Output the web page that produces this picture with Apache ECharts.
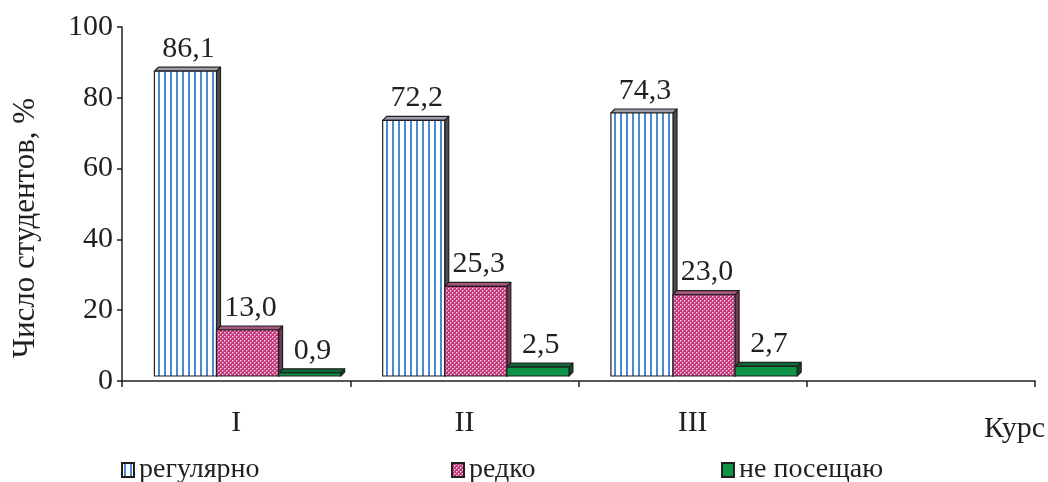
<!DOCTYPE html>
<html>
<head>
<meta charset="utf-8">
<script src="https://cdn.jsdelivr.net/npm/echarts@6/dist/echarts.min.js"></script>
<style>
  html, body { margin: 0; padding: 0; background: #fff; }
  #chart { width: 1048px; height: 482px; }
</style>
</head>
<body>
<div id="chart"></div>
<script>
// Attendance by course, %
const courses = ['I', 'II', 'III', ''];
const regular = [86.1, 72.2, 74.3, null];   // регулярно
const rarely = [13.0, 25.3, 23.0, null];    // редко
const never = [0.9, 2.5, 2.7, null];        // не посещаю
const yTicks = [0, 20, 40, 60, 80, 100];

const FONT = '"Liberation Serif", "Times New Roman", serif';
const INK = '#231f20';

// Fill patterns for the bar faces
function stripePattern() {
  const c = document.createElement('canvas');
  c.width = 6; c.height = 6;
  const g = c.getContext('2d');
  g.fillStyle = '#ffffff'; g.fillRect(0, 0, 6, 6);
  g.fillStyle = '#4a8ad4'; g.fillRect(2, 0, 2, 6);
  return { image: c, repeat: 'repeat' };
}
function dotPattern() {
  const c = document.createElement('canvas');
  c.width = 4; c.height = 4;
  const g = c.getContext('2d');
  g.fillStyle = '#c2387b'; g.fillRect(0, 0, 4, 4);
  g.fillStyle = '#f4d3e3';
  g.fillRect(0, 0, 1, 1); g.fillRect(2, 2, 1, 1);
  g.fillStyle = '#e08ab3';
  g.fillRect(1, 0, 1, 1); g.fillRect(0, 1, 1, 1); g.fillRect(3, 2, 1, 1); g.fillRect(2, 3, 1, 1);
  return { image: c, repeat: 'repeat' };
}

const faces = [
  { front: stripePattern(), top: '#9a9fa8', side: '#4e4e4e' },
  { front: dotPattern(), top: '#a5587f', side: '#6e3a55' },
  { front: '#0e9447', top: '#0a6b34', side: '#064d24' }
];

const DEPTH = 4;   // oblique depth of the 3D box
const LIFT = 5;    // floor raised above the axis line

function boxRenderer(idx) {
  return function (params, api) {
    const cat = api.value(0);
    const val = api.value(1);
    const base = api.coord([cat, 0]);
    const top = api.coord([cat, val]);
    const band = api.size([1, 0])[0];
    const w = band * 0.272;
    const x0 = base[0] - band / 2 + band * (0.142 + idx * 0.272);
    const x1 = x0 + w;
    const yb = base[1] - LIFT;
    const yt = top[1] - LIFT;
    const f = faces[idx];
    const stroke = { stroke: INK, lineWidth: 1.2, lineJoin: 'round' };
    return {
      type: 'group',
      children: [
        { type: 'polygon', shape: { points: [[x1, yb], [x1 + DEPTH, yb - DEPTH], [x1 + DEPTH, yt - DEPTH], [x1, yt]] },
          style: Object.assign({ fill: f.side }, stroke) },
        { type: 'polygon', shape: { points: [[x0, yt], [x1, yt], [x1 + DEPTH, yt - DEPTH], [x0 + DEPTH, yt - DEPTH]] },
          style: Object.assign({ fill: f.top }, stroke) },
        { type: 'rect', shape: { x: x0, y: yt, width: w, height: yb - yt },
          style: Object.assign({ fill: f.front }, stroke) },
        { type: 'text', x: (x0 + x1) / 2 + 3, y: yt - 7,
          style: { text: val.toFixed(1).replace('.', ','), align: 'center', verticalAlign: 'bottom',
                   font: '30px ' + FONT, fill: INK } }
      ]
    };
  };
}

function toData(arr) {
  const out = [];
  arr.forEach(function (v, i) { if (v !== null) out.push([i, v]); });
  return out;
}

const names = ['регулярно', 'редко', 'не посещаю'];
const seriesValues = [regular, rarely, never];
const legendLeft = [116, 446, 716];

const chart = echarts.init(document.getElementById('chart'), null, { renderer: 'canvas' });
chart.setOption({
  animation: false,
  backgroundColor: '#ffffff',
  textStyle: { fontFamily: FONT, color: INK },
  grid: { left: 122, right: 12, top: 27, bottom: 101, containLabel: false },
  legend: names.map(function (n, i) {
    return {
      data: [n], left: legendLeft[i], top: 451, orient: 'horizontal',
      icon: 'rect', itemWidth: 12, itemHeight: 14,
      textStyle: { fontFamily: FONT, fontSize: 28, color: INK }
    };
  }),
  xAxis: {
    type: 'category', data: courses, boundaryGap: true,
    name: 'Курс', nameLocation: 'end', nameGap: 10,
    nameTextStyle: { fontFamily: FONT, fontSize: 30, color: INK, align: 'right', verticalAlign: 'top', padding: [33, 0, 0, 0] },
    axisLine: { lineStyle: { color: INK, width: 1.5 } },
    axisTick: { show: true, length: 6, lineStyle: { color: INK, width: 1.5 } },
    axisLabel: { margin: 27, fontFamily: FONT, fontSize: 30, color: INK }
  },
  yAxis: {
    type: 'value', min: yTicks[0], max: yTicks[yTicks.length - 1], interval: yTicks[1] - yTicks[0],
    axisLine: { show: true, lineStyle: { color: INK, width: 1.5 } },
    axisTick: { show: true, length: 5, lineStyle: { color: INK, width: 1.5 } },
    splitLine: { show: false },
    axisLabel: { margin: 9, fontFamily: FONT, fontSize: 30, color: INK }
  },
  graphic: [{
    type: 'text', x: 26, y: 228, rotation: Math.PI / 2,
    style: { text: 'Число студентов, %', align: 'center', verticalAlign: 'middle', font: '31px ' + FONT, fill: INK }
  }],
  series: names.map(function (n, i) {
    return {
      type: 'custom', name: n, data: toData(seriesValues[i]),
      encode: { x: 0, y: 1 },
      itemStyle: { color: faces[i].front, borderColor: INK, borderWidth: 1.2 },
      renderItem: boxRenderer(i)
    };
  })
});
</script>
</body>
</html>
